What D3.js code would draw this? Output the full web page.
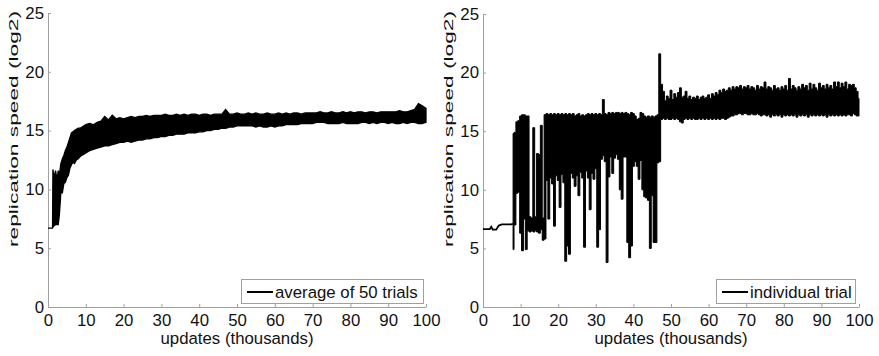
<!DOCTYPE html>
<html>
<head>
<meta charset="utf-8">
<script src="https://d3js.org/d3.v7.min.js"></script>
<style>
  body { margin: 0; background: #fff; }
  svg text { font-family: "Liberation Sans", Arial, sans-serif; fill: #111; }
  .axis path, .axis line { stroke: #a0a0a0; }
</style>
</head>
<body>
<div class="result"></div>
<script>
// Tick labels
const xTicks = [0, 10, 20, 30, 40, 50, 60, 70, 80, 90, 100];
const yTicks = [0, 5, 10, 15, 20, 25];

// Left panel: average of 50 trials, envelope (max / min) of the dense trace
// x in thousands of updates
const avgX = [0, 1.2, 1.3, 1.6, 2.0, 2.4, 2.7, 3.0, 3.4, 3.8, 4.2, 4.6, 5.0, 5.4, 5.8, 6.2, 6.6, 7, 7.5, 8, 8.5, 9, 9.5, 10]
  .concat(d3.range(11, 101));
const avgHi = [6.7, 6.7, 11.7, 11.0, 11.6, 10.8, 11.6, 11.2, 12.2, 12.6, 12.9, 13.3, 13.6, 14.0, 14.4, 14.8, 14.9, 15.0, 15.1, 15.2, 15.2, 15.3, 15.4, 15.5,
  15.6, 15.5, 15.7, 15.8, 16.2, 15.9, 16.3, 16.0, 16.1, 16.0,
  16.1, 16.2, 16.1, 16.2, 16.2, 16.3, 16.2, 16.3, 16.3, 16.3,
  16.4, 16.3, 16.3, 16.4, 16.3, 16.4, 16.3, 16.4, 16.4, 16.3,
  16.4, 16.4, 16.3, 16.4, 16.4, 16.4, 16.8, 16.4, 16.4, 16.5,
  16.4, 16.4, 16.5, 16.4, 16.5, 16.4, 16.4, 16.5, 16.4, 16.4,
  16.5, 16.4, 16.5, 16.4, 16.5, 16.5, 16.4, 16.5, 16.5, 16.5,
  16.5, 16.6, 16.5, 16.5, 16.6, 16.5, 16.5, 16.6, 16.5, 16.6,
  16.5, 16.6, 16.6, 16.5, 16.6, 16.6, 16.5, 16.6, 16.6, 16.6,
  16.6, 16.6, 16.7, 16.6, 16.6, 16.7, 16.8, 17.3, 17.1, 16.9];
const avgLo = [6.7, 6.7, 6.8, 6.9, 7.0, 7.0, 7.0, 7.8, 9.7, 9.7, 10.5, 10.6, 11.0, 11.2, 11.8, 12.1, 12.3, 12.2, 12.5, 12.6, 12.8, 12.9, 13.0, 13.1,
  13.3, 13.4, 13.5, 13.6, 13.7, 13.7, 13.8, 13.9, 14.0, 14.0,
  14.1, 14.0, 14.1, 14.2, 14.2, 14.3, 14.3, 14.4, 14.4, 14.5,
  14.5, 14.6, 14.6, 14.7, 14.7, 14.7, 14.8, 14.8, 14.8, 14.9,
  14.9, 15.0, 15.0, 15.1, 15.1, 15.2, 15.2, 15.3, 15.3, 15.4,
  15.4, 15.4, 15.4, 15.4, 15.3, 15.4, 15.3, 15.3, 15.4, 15.3,
  15.4, 15.4, 15.5, 15.5, 15.5, 15.5, 15.6, 15.6, 15.6, 15.6,
  15.7, 15.7, 15.7, 15.6, 15.6, 15.6, 15.6, 15.7, 15.6, 15.6,
  15.6, 15.6, 15.7, 15.7, 15.6, 15.7, 15.6, 15.7, 15.7, 15.6,
  15.7, 15.6, 15.6, 15.7, 15.6, 15.7, 15.7, 15.6, 15.6, 15.7];

// Right panel: individual trial
// quiet start, single trace
const trialStartX = [0, 1.8, 2.2, 2.6, 3.5, 4.2, 5.0, 7.5, 8.0];
const trialStartY = [6.65, 6.65, 6.85, 6.6, 6.6, 6.95, 7.05, 7.05, 7.1];
// from 8k on: max / min of the trace per half-thousand updates
const trialX = d3.range(8, 100.25, 0.5);
const trialHi = [
  14.8, 14.9, 15.8, 15.9, 16.3, 16.4, 16.4, 16.3, 16.3, 7.7,
  7.6, 15.3, 7.7, 13.1, 13.0, 15.5, 7.6, 16.4, 16.5, 16.4,
  16.5, 16.4, 16.5, 16.4, 16.5, 16.4, 16.5, 16.4, 16.5, 16.4,
  16.5, 16.4, 16.5, 16.3, 16.4, 16.5, 16.3, 16.4, 16.3, 16.4,
  16.5, 16.4, 16.5, 16.4, 16.5, 16.4, 16.5, 16.4, 17.7, 16.5,
  16.4, 16.6, 16.5, 16.6, 16.5, 16.6, 16.6, 16.5, 16.6, 16.5,
  16.6, 16.5, 16.4, 16.6, 16.5, 16.3, 16.0, 16.1, 16.6, 16.5,
  16.3, 16.2, 16.3, 16.2, 16.3, 16.2, 16.3, 16.4, 21.6, 19.0,
  18.4, 17.6, 18.0, 17.8, 18.5, 17.7, 18.2, 17.9, 18.3, 18.7,
  17.9, 18.0, 18.4, 17.8, 18.0, 17.7, 17.9, 17.8, 18.0, 17.7,
  17.9, 18.0, 17.8, 17.9, 18.1, 17.8, 18.2, 18.0, 18.3, 18.1,
  18.5, 18.3, 18.6, 18.4, 18.5, 18.7, 18.5, 18.8, 18.6, 18.8,
  18.7, 18.9, 18.6, 18.8, 18.7, 18.9, 18.6, 18.8, 18.7, 18.5,
  18.9, 18.6, 18.8, 18.7, 19.2, 18.6, 18.8, 18.7, 18.5, 18.9,
  18.6, 18.7, 18.5, 18.8, 18.6, 18.9, 18.5, 19.5, 18.6, 18.9,
  18.7, 18.5, 18.8, 18.6, 19.0, 18.7, 18.9, 18.5, 19.1, 18.6,
  19.0, 18.7, 18.5, 19.1, 18.7, 18.9, 18.6, 19.0, 18.7, 18.9,
  18.6, 19.2, 18.8, 19.2, 18.7, 19.1, 18.8, 19.2, 18.6, 19.0,
  18.9, 19.0, 18.7, 18.4, 17.8];
const trialLo = [
  4.9, 7.0, 9.7, 9.8, 6.3, 4.8, 7.5, 4.9, 6.5, 6.4,
  6.5, 6.4, 6.5, 6.4, 6.3, 6.6, 5.7, 5.8, 10.8, 7.5,
  11.0, 10.5, 6.9, 11.2, 10.8, 8.5, 11.3, 10.6, 3.9, 5.2,
  4.5, 11.4, 11.0, 10.3, 11.2, 9.5, 11.5, 11.0, 5.1, 11.6,
  11.0, 8.3, 11.4, 10.9, 11.8, 5.1, 6.6, 12.6, 12.9, 12.4,
  3.8, 11.1, 12.8, 11.4, 12.7, 13.0, 12.6, 10.0, 9.2, 12.8,
  12.8, 5.5, 4.2, 5.2, 12.0, 12.4, 12.0, 10.9, 12.5, 10.0,
  9.4, 9.3, 9.1, 5.0, 9.5, 5.5, 5.5, 12.3, 12.4, 16.0,
  16.1, 16.0, 16.1, 16.0, 16.0, 16.1, 16.0, 16.1, 16.0, 15.8,
  15.7, 16.0, 16.1, 16.0, 16.1, 16.0, 16.1, 16.0, 16.0, 16.1,
  16.0, 16.1, 16.0, 16.1, 16.0, 16.1, 16.0, 16.1, 16.0, 16.1,
  16.0, 16.1, 16.1, 16.0, 16.1, 16.2, 16.3, 16.3, 16.4, 16.4,
  16.5, 16.5, 16.4, 16.5, 16.5, 16.4, 16.4, 16.5, 16.4, 16.4,
  16.5, 16.4, 16.3, 16.4, 16.4, 16.3, 16.4, 16.2, 16.4, 16.3,
  16.4, 16.3, 16.4, 16.2, 16.4, 16.3, 16.4, 16.3, 16.4, 16.3,
  16.4, 16.2, 16.4, 16.3, 16.4, 16.3, 16.4, 16.2, 16.4, 16.3,
  16.4, 16.3, 16.4, 16.3, 16.4, 16.3, 16.4, 16.2, 16.4, 16.3,
  16.4, 16.3, 16.4, 16.3, 16.4, 16.3, 16.4, 16.3, 16.4, 16.4,
  16.3, 16.5, 16.4, 16.3, 16.3];

// Width and height
const w = 879;
const h = 356;

const svg = d3.select('.result')
  .append('svg')
  .attr('width', w)
  .attr('height', h);

// Draws axes and axis titles of one panel, returns its scales
function drawFrame(p) {
  const xScale = d3.scaleLinear().domain([0, 100]).range([p.left, p.right]);
  const yScale = d3.scaleLinear().domain([0, 25]).range([p.bottom, p.top]);

  const xAxis = d3.axisBottom(xScale)
    .tickValues(xTicks)
    .tickSizeInner(-3)
    .tickSizeOuter(0)
    .tickPadding(7);
  const yAxis = d3.axisLeft(yScale)
    .tickValues(yTicks)
    .tickSizeInner(-3)
    .tickSizeOuter(0)
    .tickPadding(4);

  svg.append('g')
    .attr('class', 'axis')
    .attr('transform', 'translate(0,' + p.bottom + ')')
    .call(xAxis)
    .attr('font-size', 16.8)
    .attr('font-family', null);

  svg.append('g')
    .attr('class', 'axis')
    .attr('transform', 'translate(' + p.left + ',0)')
    .call(yAxis)
    .attr('font-size', 16.8)
    .attr('font-family', null);

  // axis titles
  svg.append('text')
    .attr('x', (p.left + p.right) / 2)
    .attr('y', 344)
    .attr('text-anchor', 'middle')
    .style('font-size', '16.8px')
    .text('updates (thousands)');

  svg.append('text')
    .attr('transform', 'translate(' + p.ylabX + ',129) rotate(-90)')
    .attr('text-anchor', 'middle')
    .attr('textLength', 236)
    .attr('lengthAdjust', 'spacingAndGlyphs')
    .style('font-size', '13.5px')
    .text('replication speed (log2)');

  return { xScale, yScale };
}

function drawLegend(p) {
  const g = svg.append('g');
  g.append('rect')
    .attr('x', p.lx + 0.5)
    .attr('y', 279.5)
    .attr('width', p.lw)
    .attr('height', 24)
    .attr('fill', '#fff')
    .attr('stroke', '#a0a0a0');
  g.append('line')
    .attr('x1', p.lx + 6)
    .attr('x2', p.lx + 32)
    .attr('y1', 292)
    .attr('y2', 292)
    .attr('stroke', '#000')
    .attr('stroke-width', 2);
  g.append('text')
    .attr('x', p.lx + 34)
    .attr('y', 298)
    .style('font-size', '16.8px')
    .text(p.label);
}

// Left panel
const left = { left: 48, right: 426, top: 13, bottom: 307, ylabX: 18, lx: 241, lw: 182, label: 'average of 50 trials' };
const sL = drawFrame(left);

const avgArea = d3.area()
  .x(function (d, i) { return sL.xScale(avgX[i]); })
  .y0(function (d, i) { return sL.yScale(avgLo[i]); })
  .y1(function (d, i) { return sL.yScale(avgHi[i]); });

svg.append('path')
  .datum(avgX)
  .attr('d', avgArea)
  .attr('fill', '#000')
  .attr('stroke', '#000')
  .attr('stroke-width', 1.3);

drawLegend(left);

// Right panel
const right = { left: 483, right: 859, top: 14, bottom: 307, ylabX: 453, lx: 716, lw: 139, label: 'individual trial' };
const sR = drawFrame(right);

const startLine = d3.line()
  .x(function (d, i) { return sR.xScale(trialStartX[i]); })
  .y(function (d, i) { return sR.yScale(trialStartY[i]); });

svg.append('path')
  .datum(trialStartX)
  .attr('d', startLine)
  .attr('fill', 'none')
  .attr('stroke', '#000')
  .attr('stroke-width', 1.8);

const trialArea = d3.area()
  .curve(d3.curveStep)
  .x(function (d, i) { return sR.xScale(trialX[i]); })
  .y0(function (d, i) { return sR.yScale(trialLo[i]); })
  .y1(function (d, i) { return sR.yScale(trialHi[i]); });

svg.append('path')
  .datum(trialX)
  .attr('d', trialArea)
  .attr('fill', '#000')
  .attr('stroke', '#000')
  .attr('stroke-width', 1);

drawLegend(right);
</script>
</body>
</html>
